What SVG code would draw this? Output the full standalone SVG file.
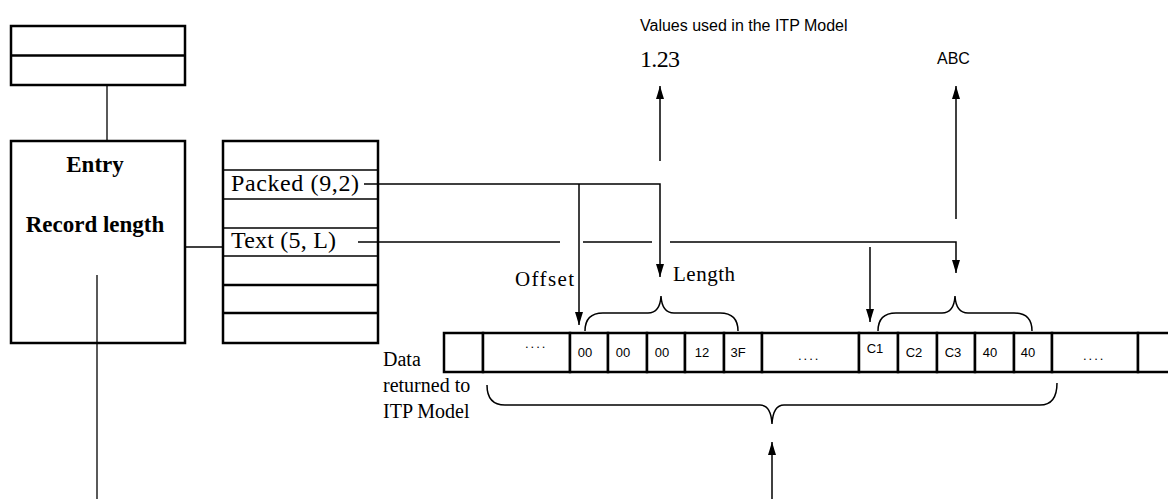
<svg xmlns="http://www.w3.org/2000/svg" width="1168" height="499" viewBox="0 0 1168 499">
<defs>
<marker id="ah" markerUnits="userSpaceOnUse" markerWidth="14" markerHeight="10" refX="13" refY="5" orient="auto">
<path d="M0,1 L13,5 L0,9 z" fill="#000"/>
</marker>
<style>
.box{fill:#fff;stroke:#000;stroke-width:2.5}
.thin{stroke:#000;stroke-width:1.3;fill:none}
.line{stroke:#000;stroke-width:1.5;fill:none}
.serif{font-family:"Liberation Serif","Times New Roman",serif;fill:#000}
.sans{font-family:"Liberation Sans",Arial,sans-serif;fill:#000}
.cell{fill:#fff;stroke:#000;stroke-width:2.5}
.ct{font-family:"Liberation Sans",Arial,sans-serif;font-size:13px;text-anchor:middle;fill:#000}
.dots{font-family:"Liberation Sans",Arial,sans-serif;font-size:13px;letter-spacing:2px;fill:#000}
</style>
</defs>
<rect width="1168" height="499" fill="#fff"/>

<g id="top-box">
<rect class="box" x="11" y="26" width="174" height="59"/>
<line class="box" x1="11" y1="55.5" x2="185" y2="55.5"/>
</g>

<g id="entry">
<rect class="box" x="11" y="141" width="174" height="202"/>
<text class="serif" x="95" y="172" font-size="23" font-weight="bold" text-anchor="middle">Entry</text>
<text class="serif" x="95" y="232" font-size="23" font-weight="bold" text-anchor="middle">Record length</text>
</g>

<g id="fields">
<rect class="box" x="223" y="141" width="155" height="202"/>
<line class="thin" x1="223" y1="170" x2="378" y2="170"/>
<line class="thin" x1="223" y1="199" x2="378" y2="199"/>
<line class="thin" x1="223" y1="228" x2="378" y2="228"/>
<line class="thin" x1="223" y1="256" x2="378" y2="256"/>
<line class="box" x1="223" y1="285" x2="378" y2="285"/>
<line class="box" x1="223" y1="313" x2="378" y2="313"/>
<text class="serif" x="231" y="191" font-size="24" textLength="128">Packed (9,2)</text>
<text class="serif" x="231" y="248" font-size="24" textLength="105">Text (5, L)</text>
</g>

<g id="values-label">
<text class="sans" x="640" y="31" font-size="16">Values used in the ITP Model</text>
<text class="serif" x="640" y="67" font-size="24" textLength="40">1.23</text>
<text class="sans" x="937" y="64" font-size="16">ABC</text>
</g>

<g id="data-row">
<rect class="cell" x="444" y="333" width="39" height="39"/>
<rect class="cell" x="483" y="333" width="87" height="39"/>
<rect class="cell" x="570" y="333" width="38" height="39"/>
<rect class="cell" x="608" y="333" width="39" height="39"/>
<rect class="cell" x="647" y="333" width="38" height="39"/>
<rect class="cell" x="685" y="333" width="39" height="39"/>
<rect class="cell" x="724" y="333" width="38" height="39"/>
<rect class="cell" x="762" y="333" width="97" height="39"/>
<rect class="cell" x="859" y="333" width="39" height="39"/>
<rect class="cell" x="898" y="333" width="39" height="39"/>
<rect class="cell" x="937" y="333" width="38" height="39"/>
<rect class="cell" x="975" y="333" width="39" height="39"/>
<rect class="cell" x="1014" y="333" width="38" height="39"/>
<rect class="cell" x="1052" y="333" width="86" height="39"/>
<rect class="cell" x="1138" y="333" width="40" height="39"/>
<text class="dots" x="525" y="348">....</text>
<text class="ct" x="585" y="357">00</text>
<text class="ct" x="623" y="357">00</text>
<text class="ct" x="662" y="357">00</text>
<text class="ct" x="702" y="357">12</text>
<text class="ct" x="738" y="357">3F</text>
<text class="dots" x="798" y="360">....</text>
<text class="ct" x="875" y="353">C1</text>
<text class="ct" x="914" y="357">C2</text>
<text class="ct" x="953" y="357">C3</text>
<text class="ct" x="990" y="357">40</text>
<text class="ct" x="1028" y="357">40</text>
<text class="dots" x="1083" y="360">....</text>
</g>

<g id="labels">
<text class="serif" x="515" y="286" font-size="21" textLength="59">Offset</text>
<text class="serif" x="673" y="281" font-size="21" textLength="62">Length</text>
<text class="serif" x="383" y="366" font-size="20">Data</text>
<text class="serif" x="383" y="392" font-size="20">returned to</text>
<text class="serif" x="383" y="418" font-size="20">ITP Model</text>
</g>

<g id="connectors">
<line class="thin" x1="107" y1="85" x2="107" y2="141"/>
<line class="thin" x1="97" y1="275" x2="97" y2="499"/>
<line class="line" x1="185" y1="247" x2="223" y2="247"/>
<polyline class="line" points="364,184 660,184 660,277" marker-end="url(#ah)"/>
<line class="line" x1="579" y1="184" x2="579" y2="325" marker-end="url(#ah)"/>
<line class="line" x1="358" y1="242" x2="560" y2="242"/>
<line class="line" x1="583" y1="242" x2="652" y2="242"/>
<polyline class="line" points="670,242 956,242 956,273" marker-end="url(#ah)"/>
<line class="line" x1="870" y1="247" x2="870" y2="322" marker-end="url(#ah)"/>
<line class="line" x1="660" y1="161" x2="660" y2="86" marker-end="url(#ah)"/>
<line class="line" x1="956" y1="219" x2="956" y2="86" marker-end="url(#ah)"/>
<line class="line" x1="772" y1="499" x2="772" y2="442" marker-end="url(#ah)"/>
<path class="line" d="M585,331 Q585,313 603,313 L648,313 Q660,313 661,296 Q662,313 674,313 L720,313 Q738,313 738,331"/>
<path class="line" d="M878,331 Q878,313 896,313 L942,313 Q954,313 955,296 Q956,313 968,313 L1014,313 Q1032,313 1032,331"/>
<path class="line" d="M487,385 Q487,405 505,405 L760,405 Q771,405 772,424 Q773,405 784,405 L1040,405 Q1057,405 1057,383"/>
</g>
</svg>
